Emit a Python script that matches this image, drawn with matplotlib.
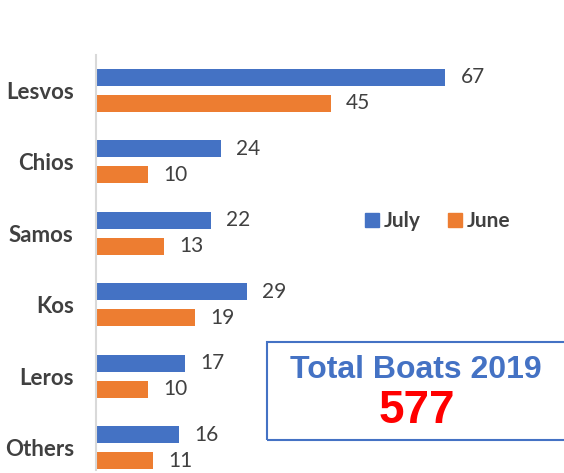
import matplotlib
matplotlib.use("Agg")
import matplotlib.pyplot as plt
from matplotlib.patches import Rectangle, Patch
import numpy as np

# data
islands = ["Lesvos", "Chios", "Samos", "Kos", "Leros", "Others"]
july = [67, 24, 22, 29, 17, 16]
june = [45, 10, 13, 19, 10, 11]
total_label = "Total Boats 2019"
total_value = "577"

BLUE = "#4472C4"
ORANGE = "#ED7D31"
GREY_TXT = "#404040"

plt.rcParams["font.family"] = ["Lato", "DejaVu Sans"]

fig = plt.figure(figsize=(5.64, 4.73), dpi=100)
ax = fig.add_axes([96 / 564, 1 - 470 / 473, 1 - 96 / 564, (470 - 55) / 473])

y = np.arange(len(islands))
off = 13 / 71.5
h = 17 / 71.5
bars_jul = ax.barh(y - off, july, height=h, color=BLUE, label="July")
bars_jun = ax.barh(y + off, june, height=h, color=ORANGE, label="June")

for bars, vals in ((bars_jul, july), (bars_jun, june)):
    for b, v in zip(bars, vals):
        ax.annotate(str(v), (b.get_width(), b.get_y() + b.get_height() / 2),
                    xytext=(11, 0), textcoords="offset points",
                    va="center", ha="left", fontsize=15, color=GREY_TXT)

ax.set_xlim(0, 89.8)
ax.set_ylim(5.31, -0.493)
ax.set_yticks(y)
ax.set_yticklabels(islands, fontsize=16, fontweight="bold", color=GREY_TXT)
ax.tick_params(axis="y", length=0, pad=16)
ax.set_xticks([])
for s in ("top", "right", "bottom"):
    ax.spines[s].set_visible(False)
ax.spines["left"].set_color("#d9d9d9")
ax.spines["left"].set_linewidth(1.5)

handles = [Patch(color=BLUE, label="July"), Patch(color=ORANGE, label="June")]
leg = fig.legend(handles=handles, loc="center", bbox_to_anchor=(438 / 564, 1 - 221 / 473),
                 ncol=2, frameon=False, handlelength=0.65, handleheight=0.65,
                 handletextpad=0.25, columnspacing=1.3,
                 prop={"weight": "bold", "size": 15})
for t in leg.get_texts():
    t.set_color(GREY_TXT)

# summary box
fig.patches.append(Rectangle((267 / 564, 1 - 440 / 473), 0.6, 98 / 473,
                             transform=fig.transFigure, fill=False,
                             edgecolor=BLUE, linewidth=1.5))
fig.text(416 / 564, 1 - 370 / 473, total_label, ha="center", va="center",
         fontsize=23, fontweight="bold", color=BLUE, family="Liberation Sans")
fig.text(417 / 564, 1 - 411 / 473, total_value, ha="center", va="center",
         fontsize=33, fontweight="bold", color="#FF0000", family="Liberation Sans")

fig.savefig("out.png", dpi=100)
